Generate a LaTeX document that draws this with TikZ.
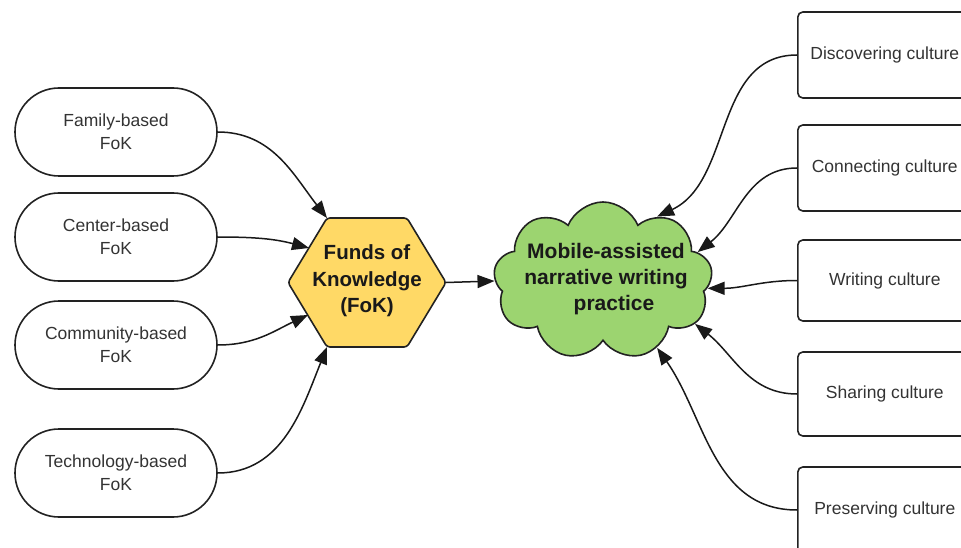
\documentclass[tikz,border=0pt]{standalone}
\usepackage{fontspec}
\setmainfont{Liberation Sans}
\usetikzlibrary{shapes.misc,shapes.symbols,arrows.meta}
\definecolor{hexfill}{HTML}{FFD966}
\definecolor{cloudfill}{HTML}{9CD470}
\definecolor{edgecol}{HTML}{222222}
\definecolor{lblcol}{HTML}{333333}
\begin{document}
\begin{tikzpicture}[x=1pt,y=1pt,
  fokbox/.style={draw=edgecol, line width=1.6pt, rounded rectangle, minimum width=202pt, minimum height=88pt, align=center, font=\fontsize{17.5}{23}\selectfont, text=lblcol, inner sep=0pt},
  culbox/.style={draw=edgecol, line width=1.6pt, rounded corners=5pt, minimum width=174pt, align=center, font=\fontsize{17.5}{23}\selectfont, text=lblcol, inner sep=0pt, anchor=west},
  boldtxt/.style={align=center, font=\bfseries\fontsize{20.5}{26.5}\selectfont, text=black!90, inner sep=0pt},
  conn/.style={line width=1.5pt, draw=black!90, -{Triangle[length=17pt,width=13pt]}}
]
\useasboundingbox (0,0) rectangle (961,-548);
\clip (0,0) rectangle (961,-548);

% left boxes
\node[fokbox] (fam)  at (116,-132) {Family-based\\FoK};
\node[fokbox] (cen)  at (116,-237) {Center-based\\FoK};
\node[fokbox] (com)  at (116,-345) {Community-based\\FoK};
\node[fokbox] (tec)  at (116,-473) {Technology-based\\FoK};

% hexagon
\draw[draw=edgecol, line width=1.6pt, fill=hexfill, rounded corners=3pt]
  (288,-282.5) -- (327,-218) -- (407,-218) -- (446,-282.5) -- (407,-347) -- (327,-347) -- cycle;
\coordinate (hTL) at (327,-218);
\coordinate (hUL) at (309,-248);
\coordinate (hLL) at (308,-315);
\coordinate (hBL) at (327,-347);
\coordinate (hR)  at (446,-282.5);
\node[boldtxt] (fok) at (367,-281) {Funds of\\Knowledge\\(FoK)};

% cloud
\node[cloud, cloud puffs=9, cloud puff arc=135, aspect=1.4, draw=edgecol, line width=1.6pt, fill=cloudfill, minimum width=219pt, minimum height=158pt, inner sep=0pt] (cloud) at (603,-281) {};
\node[boldtxt, font=\bfseries\fontsize{21}{26}\selectfont] (mob) at (606,-279) {Mobile-assisted\\narrative writing\\\hspace*{16pt}practice};

% right boxes
\node[culbox, minimum height=86pt] (dis) at (797,-55)  {Discovering culture};
\node[culbox, minimum height=86pt] (con) at (797,-168) {Connecting culture};
\node[culbox, minimum height=81pt] (wri) at (797,-280.5) {Writing culture};
\node[culbox, minimum height=84pt] (sha) at (797,-394) {Sharing culture};
\node[culbox, minimum height=86pt] (pre) at (797,-510) {Preserving culture};

% connectors left
\draw[conn] (fam.east) to[out=0,in=128] (hTL);
\draw[conn] (cen.east) to[out=0,in=165] (hUL);
\draw[conn] (com.east) to[out=0,in=-155] (hLL);
\draw[conn] (tec.east) to[out=0,in=-112] (hBL);
\draw[conn] (hR) -- (cloud.west);

% connectors right
\draw[conn] (dis.west) to[out=180,in=25] (cloud.50);
\draw[conn] (con.west) to[out=180,in=38] (cloud.17);
\draw[conn] (wri.west) to[out=180,in=0] (cloud.-4);
\draw[conn] (sha.west) to[out=180,in=-38] (cloud.-25);
\draw[conn] (pre.west) to[out=180,in=-55] (cloud.-51);
\end{tikzpicture}
\end{document}
